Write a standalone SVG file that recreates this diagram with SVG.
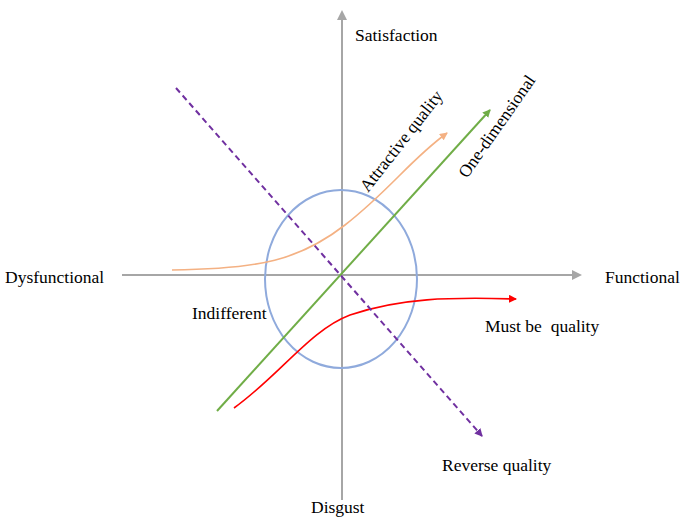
<svg xmlns="http://www.w3.org/2000/svg" width="685" height="525" viewBox="0 0 685 525">
<style>
text{font-family:"Liberation Serif","Times New Roman",serif;font-size:17.5px;fill:#000}
.ax{stroke:#a6a6a6;stroke-width:2;fill:none}
</style>
<defs>
<marker id="ga" markerWidth="10" markerHeight="10" refX="8" refY="5" orient="auto" markerUnits="userSpaceOnUse"><path d="M0,0 L10,5 L0,10 Z" fill="#a6a6a6"/></marker>
<marker id="gr" markerWidth="8" markerHeight="8" refX="7" refY="4" orient="auto" markerUnits="userSpaceOnUse"><path d="M0,0 L8,4 L0,8 Z" fill="#70ad47"/></marker>
<marker id="or" markerWidth="8" markerHeight="8" refX="7" refY="4" orient="auto" markerUnits="userSpaceOnUse"><path d="M0,0 L8,4 L0,8 Z" fill="#f4b183"/></marker>
<marker id="rd" markerWidth="8" markerHeight="8" refX="7" refY="4" orient="auto" markerUnits="userSpaceOnUse"><path d="M0,0 L8,4 L0,8 Z" fill="#ff0000"/></marker>
<marker id="pu" markerWidth="8" markerHeight="8" refX="7" refY="4" orient="auto" markerUnits="userSpaceOnUse"><path d="M0,0 L8,4 L0,8 Z" fill="#7030a0"/></marker>
</defs>
<g id="connectors">
<line class="ax" x1="122" y1="275" x2="580" y2="275" marker-end="url(#ga)"/>
<line class="ax" x1="342" y1="500" x2="342" y2="12" marker-end="url(#ga)"/>
<ellipse cx="341" cy="279" rx="76" ry="89" fill="none" stroke="#8faadc" stroke-width="2"/>
<line x1="217" y1="411" x2="490" y2="110" stroke="#70ad47" stroke-width="2" marker-end="url(#gr)"/>
<path d="M172,270 C260,269 300,260 345,225 C390,190 410,160 447,133" fill="none" stroke="#f4b183" stroke-width="1.6" marker-end="url(#or)"/>
<path d="M234,408 C280,375 310,330 350,315 C400,298 450,297 516,299" fill="none" stroke="#ff0000" stroke-width="1.6" marker-end="url(#rd)"/>
<line x1="176" y1="88" x2="482" y2="436" stroke="#7030a0" stroke-width="2" stroke-dasharray="6,4" marker-end="url(#pu)"/>
</g>
<g id="labels">
<text x="355" y="41">Satisfaction</text>
<text x="5" y="283">Dysfunctional</text>
<text x="605" y="283">Functional</text>
<text x="311" y="513">Disgust</text>
<text x="192" y="319">Indifferent</text>
<text x="485" y="332" xml:space="preserve">Must be  quality</text>
<text x="442" y="471">Reverse quality</text>
<text transform="translate(368,193) rotate(-52)">Attractive quality</text>
<text transform="translate(467,179) rotate(-55)">One-dimensional</text>
</g>
</svg>
